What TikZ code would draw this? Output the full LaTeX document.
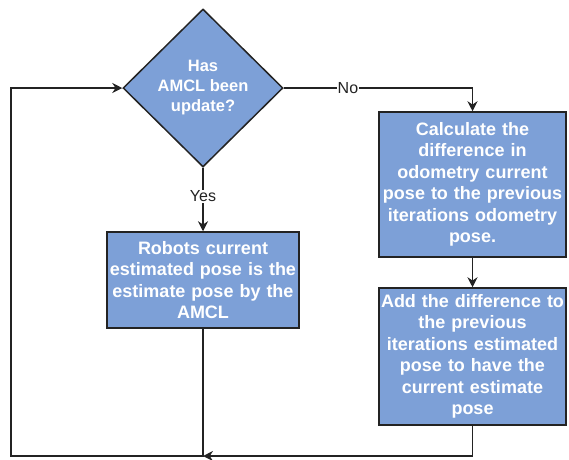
\documentclass[tikz,border=0pt]{standalone}
\usepackage{fontspec}
\setmainfont{Liberation Sans}
\usepackage{tikz}
\usetikzlibrary{arrows.meta, shapes, positioning}

\definecolor{boxblue}{RGB}{125,160,215}
\definecolor{linegrey}{RGB}{35,35,35}

\begin{document}
\begin{tikzpicture}[x=1pt,y=-1pt,
 line width=1.5pt,draw=linegrey,
 >={Stealth[length=10pt,width=10pt]},
 flow node/.style={rectangle,draw=linegrey,fill=boxblue,text=white,
   align=center,inner sep=1pt,
   font=\fontsize{18}{21.5}\selectfont\bfseries},
 decision node/.style={diamond,draw=linegrey,fill=boxblue,text=white,
   align=center,inner sep=0pt,minimum width=160pt,minimum height=158pt,
   font=\fontsize{16.5}{20}\selectfont\bfseries},
 edge label/.style={fill=white,text=linegrey,inner sep=1pt,
   font=\fontsize{16}{18}\selectfont}]

  \useasboundingbox (0,0) rectangle (569,459);

  \node[decision node] (dec) at (203,88) {Has\\AMCL been\\update?};
  \node[flow node,text width=190pt,minimum height=96pt] (robot) at (203,280)
    {Robots current\\estimated pose is the\\estimate pose by the\\AMCL};
  \node[flow node,text width=185pt,minimum height=145pt] (calc) at (472.5,184.5)
    {Calculate the\\difference in\\odometry current\\pose to the previous\\iterations odometry\\pose.};
  \node[flow node,text width=185pt,minimum height=137pt] (add) at (472.5,356.5)
    {Add the difference to\\the previous\\iterations estimated\\pose to have the\\current estimate\\pose};

  \coordinate (join) at (203,456);
  \coordinate (back) at (11,88);

  \draw[->] (dec.east) -| node[edge label,pos=0.17] {No} (calc.north);
  \draw[->] (dec.south) -- node[edge label,pos=0.45] {Yes} (robot.north);
  \draw[->] (calc.south) -- (add.north);
  \draw[->] (add.south) |- (join);
  \draw[->] (robot.south) -- (join) -| (back) -- (dec.west);

\end{tikzpicture}
\end{document}
